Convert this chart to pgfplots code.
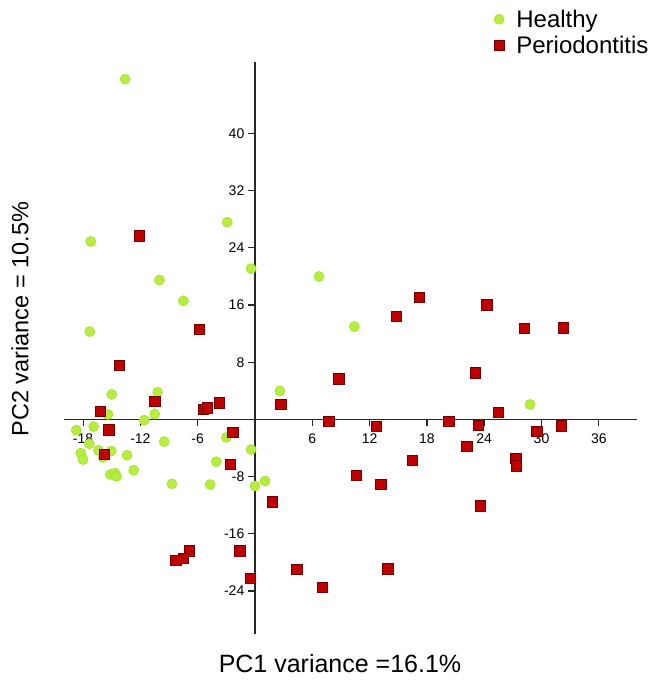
\documentclass[border=0pt]{standalone}
\usepackage{pgfplots}
\pgfplotsset{compat=1.18}
\usepackage{fontspec}
\setmainfont{Liberation Sans}
\definecolor{healthy}{HTML}{B6EE3E}
\definecolor{healthyedge}{HTML}{A6DE30}
\definecolor{perio}{HTML}{C00000}
\definecolor{perioedge}{HTML}{6E0000}

\pgfplotstableread{
x y
-13.6 47.6
-2.9 27.6
-17.2 24.9
-0.4 21.1
-10.0 19.5
-7.5 16.6
6.7 20.0
10.4 13.0
-17.3 12.3
2.6 4.0
28.8 2.1
-15.0 3.5
-10.2 3.8
-10.5 0.75
-15.4 0.7
-11.6 -0.1
-18.7 -1.5
-16.9 -1.0
-9.5 -3.1
-3.0 -2.5
-0.4 -4.2
-18.25 -4.7
-18.0 -5.6
-17.35 -3.4
-16.4 -4.3
-15.9 -5.3
-15.05 -4.4
-13.4 -5.0
-12.7 -7.1
-15.15 -7.7
-14.66 -7.5
-14.5 -7.95
-4.05 -5.9
-8.7 -9.0
-4.7 -9.1
0.0 -9.3
1.05 -8.6
}\healthytab

\pgfplotstableread{
x y
-12.1 25.7
17.2 17.1
14.8 14.4
24.3 16.0
28.2 12.7
32.3 12.8
-5.8 12.6
23.1 6.5
8.8 5.7
-14.2 7.6
2.7 2.1
-10.5 2.5
-3.7 2.3
-5.4 1.4
-5.0 1.6
-16.2 1.1
25.5 1.0
7.75 -0.3
12.7 -1.0
20.3 -0.3
23.4 -0.8
32.1 -0.9
29.5 -1.7
-15.3 -1.45
-2.3 -1.8
22.2 -3.8
-15.8 -4.9
16.5 -5.7
-2.55 -6.3
27.3 -5.4
27.4 -6.5
10.6 -7.8
13.2 -9.1
1.85 -11.5
23.6 -12.1
-6.9 -18.4
-7.5 -19.4
-8.3 -19.7
-1.6 -18.4
-0.5 -22.2
4.4 -21.0
13.9 -20.9
7.05 -23.5
}\periotab

\begin{document}
\begin{tikzpicture}
\useasboundingbox (0,0) rectangle (654pt,684pt);

\begin{axis}[
    at={(64pt,50pt)}, anchor=south west,
    scale only axis,
    width=573pt, height=572pt,
    xmin=-20, xmax=40, ymin=-30, ymax=50,
    axis lines=middle,
    axis line style={black!85, line width=1.6pt, -},
    xtick={-18,-12,-6,6,12,18,24,30,36},
    ytick={-24,-16,-8,8,16,24,32,40},
    tick align=center,
    major tick length=7pt,
    xtick style={black!85, line width=1.2pt, yshift=-3.5pt},
    ytick style={black!85, line width=1.2pt, xshift=-3.5pt},
    ticklabel style={font=\fontsize{14}{16}\selectfont},
    xticklabel style={yshift=-7pt},
    yticklabel style={inner sep=1pt, xshift=-6pt},
    /pgf/number format/assume math mode=true,
    clip=false,
    legend style={at={(0.750,1.095)}, anchor=north west, draw=none, fill=none,
        font=\fontsize{24}{27}\selectfont, row sep=3pt,
        inner sep=0pt},
    legend cell align=left,
]
\addplot[only marks, mark=*, mark size=5pt,
    mark options={fill=healthy, draw=healthyedge, line width=0.6pt}]
    table[x=x, y=y] {\healthytab};
\addlegendentry{\hspace{10pt}Healthy}
\addplot[only marks, mark=square*, mark size=5.2pt,
    mark options={fill=perio, draw=perioedge, line width=0.8pt}]
    table[x=x, y=y] {\periotab};
\addlegendentry{\hspace{10pt}Periodontitis}
\end{axis}

\node[font=\fontsize{25}{28}\selectfont] at (340pt,20pt) {PC1 variance =16.1\%};
\node[font=\fontsize{23.5}{28}\selectfont, rotate=90] at (20pt,365pt) {PC2 variance = 10.5\%};
\end{tikzpicture}
\end{document}
